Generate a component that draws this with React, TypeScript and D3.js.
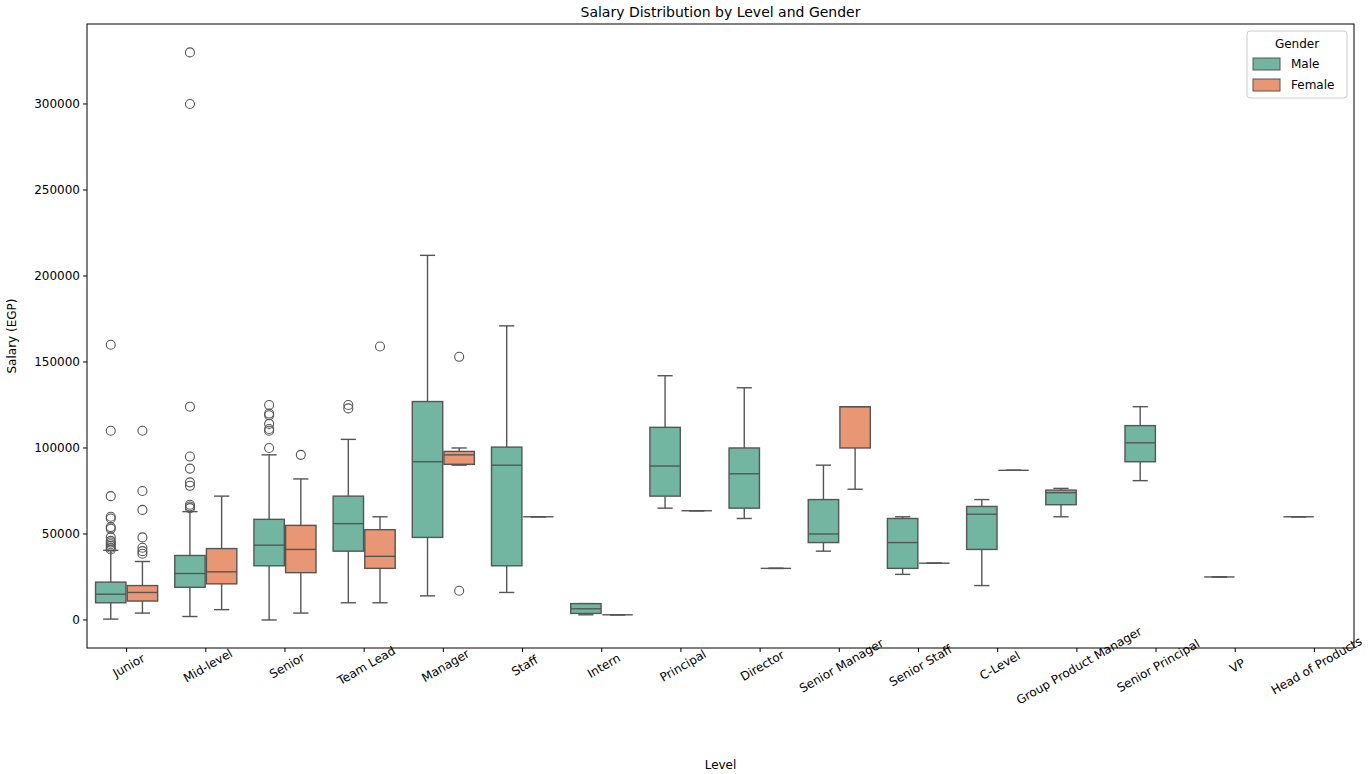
import * as d3 from 'd3';

const levels = ['Junior', 'Mid-level', 'Senior', 'Team Lead', 'Manager', 'Staff', 'Intern', 'Principal', 'Director', 'Senior Manager', 'Senior Staff', 'C-Level', 'Group Product Manager', 'Senior Principal', 'VP', 'Head of Products'];
const genders = ['Male', 'Female'];
const colors = ['#66c2a5', '#fc8d62'];
const fills = ['#72b6a1', '#e99675'];
const yTicks = [0, 50000, 100000, 150000, 200000, 250000, 300000];

// [level, gender, lowWhisker, q1, median, q3, highWhisker]
const boxes: [string, string, number, number, number, number, number][] = [
  ['Junior', 'Male', 500, 10000, 15000, 22000, 40500],
  ['Junior', 'Female', 4000, 11000, 16000, 20000, 34000],
  ['Mid-level', 'Male', 2000, 19000, 27000, 37500, 63000],
  ['Mid-level', 'Female', 6000, 21000, 28000, 41500, 72000],
  ['Senior', 'Male', 0, 31500, 43500, 58500, 96000],
  ['Senior', 'Female', 4000, 27500, 41000, 55000, 82000],
  ['Team Lead', 'Male', 10000, 40000, 56000, 72000, 105000],
  ['Team Lead', 'Female', 10000, 30000, 37000, 52500, 60000],
  ['Manager', 'Male', 14000, 48000, 92000, 127000, 212000],
  ['Manager', 'Female', 90000, 90500, 96000, 98000, 100000],
  ['Staff', 'Male', 16000, 31500, 90000, 100500, 171000],
  ['Staff', 'Female', 60000, 60000, 60000, 60000, 60000],
  ['Intern', 'Male', 3000, 3800, 6500, 9500, 9500],
  ['Intern', 'Female', 3000, 3000, 3000, 3000, 3000],
  ['Principal', 'Male', 65000, 72000, 89500, 112000, 142000],
  ['Principal', 'Female', 63500, 63500, 63500, 63500, 63500],
  ['Director', 'Male', 59000, 65000, 85000, 100000, 135000],
  ['Director', 'Female', 30000, 30000, 30000, 30000, 30000],
  ['Senior Manager', 'Male', 40000, 45000, 50000, 70000, 90000],
  ['Senior Manager', 'Female', 76000, 100000, 124000, 124000, 124000],
  ['Senior Staff', 'Male', 26500, 30000, 45000, 59000, 60000],
  ['Senior Staff', 'Female', 33000, 33000, 33000, 33000, 33000],
  ['C-Level', 'Male', 20000, 41000, 61500, 66000, 70000],
  ['C-Level', 'Female', 87000, 87000, 87000, 87000, 87000],
  ['Group Product Manager', 'Male', 60000, 67000, 74000, 75500, 76500],
  ['Senior Principal', 'Male', 81000, 92000, 103000, 113000, 124000],
  ['VP', 'Male', 25000, 25000, 25000, 25000, 25000],
  ['Head of Products', 'Male', 60000, 60000, 60000, 60000, 60000],
];

// [level, gender, value]
const outliers: [string, string, number][] = [
  ...[160000, 110000, 72000, 60000, 59000, 54000, 53000, 48000, 46000, 45000, 44000, 43000, 42000, 41000].map((v) => ['Junior', 'Male', v] as [string, string, number]),
  ...[110000, 75000, 64000, 48000, 42000, 40000, 38500].map((v) => ['Junior', 'Female', v] as [string, string, number]),
  ...[330000, 300000, 124000, 95000, 88000, 80000, 78000, 67000, 66000, 65000].map((v) => ['Mid-level', 'Male', v] as [string, string, number]),
  ...[125000, 120000, 119000, 114000, 111000, 110000, 100000].map((v) => ['Senior', 'Male', v] as [string, string, number]),
  ['Senior', 'Female', 96000],
  ['Team Lead', 'Male', 125000],
  ['Team Lead', 'Male', 123000],
  ['Team Lead', 'Female', 159000],
  ['Manager', 'Female', 153000],
  ['Manager', 'Female', 17000],
];

export default function App() {
  const W = 1372, H = 774;
  const m = { left: 87, right: 1354, top: 24, bottom: 648 };
  const x = d3.scaleBand<string>().domain(levels).range([m.left, m.right]);
  const y = d3.scaleLinear().domain([-16300, 346500]).range([m.bottom, m.top]);
  const bw = x.bandwidth() * 0.8;
  const sub = d3.scaleBand<string>().domain(genders).range([0, bw]);
  const hw = sub.bandwidth();
  const bx = (l: string, g: string) => x(l)! + x.bandwidth() * 0.1 + sub(g)!;
  const stroke = '#555555';
  const font = 'DejaVu Sans, sans-serif';

  return (
    <svg width={W} height={H} style={{ position: 'absolute', left: 0, top: 0 }} fontFamily={font}>
      <rect width={W} height={H} fill="#fff" />
      {boxes.map(([l, g, lo, q1, md, q3, hi], i) => {
        const x0 = bx(l, g) + hw * 0.02;
        const w = hw * 0.96;
        const cx = x0 + w / 2;
        const cap = w / 4;
        const fill = fills[genders.indexOf(g)];
        return (
          <g key={i} stroke={stroke} strokeWidth={1.4} fill="none">
            <line x1={cx} x2={cx} y1={y(hi)} y2={y(q3)} />
            <line x1={cx} x2={cx} y1={y(lo)} y2={y(q1)} />
            <line x1={cx - cap} x2={cx + cap} y1={y(hi)} y2={y(hi)} />
            <line x1={cx - cap} x2={cx + cap} y1={y(lo)} y2={y(lo)} />
            <rect x={x0} y={y(q3)} width={w} height={Math.max(0, y(q1) - y(q3))} fill={fill} />
            <line x1={x0} x2={x0 + w} y1={y(md)} y2={y(md)} />
          </g>
        );
      })}
      {outliers.map(([l, g, v], i) => (
        <circle key={i} cx={bx(l, g) + hw / 2} cy={y(v)} r={4.5} fill="none" stroke={stroke} strokeWidth={1.1} />
      ))}
      <rect x={m.left} y={m.top} width={m.right - m.left} height={m.bottom - m.top} fill="none" stroke="#000" strokeWidth={1} />
      {yTicks.map((t) => (
        <g key={t}>
          <line x1={m.left - 4} x2={m.left} y1={y(t)} y2={y(t)} stroke="#000" />
          <text x={m.left - 7} y={y(t)} dy="0.35em" textAnchor="end" fontSize={12}>{t}</text>
        </g>
      ))}
      {levels.map((l) => {
        const cx = x(l)! + x.bandwidth() / 2;
        return (
          <g key={l}>
            <line x1={cx} x2={cx} y1={m.bottom} y2={m.bottom + 4} stroke="#000" />
            <text transform={`translate(${cx},${m.bottom + 14}) rotate(-30)`} textAnchor="middle" dy="0.7em" fontSize={12}>{l}</text>
          </g>
        );
      })}
      <text x={(m.left + m.right) / 2} y={769} textAnchor="middle" fontSize={12}>Level</text>
      <text transform={`translate(16,${(m.top + m.bottom) / 2}) rotate(-90)`} textAnchor="middle" fontSize={12}>Salary (EGP)</text>
      <text x={(m.left + m.right) / 2} y={17} textAnchor="middle" fontSize={14}>Salary Distribution by Level and Gender</text>
      <g transform="translate(1247,31)">
        <rect width={100} height={67} rx={3} fill="#fff" stroke="#ccc" />
        <text x={50} y={17} textAnchor="middle" fontSize={12}>Gender</text>
        {genders.map((g, i) => (
          <g key={g} transform={`translate(6,${27 + i * 21})`}>
            <rect width={27} height={12} fill={fills[i]} stroke={stroke} strokeWidth={1} />
            <text x={38} y={10} fontSize={12}>{g}</text>
          </g>
        ))}
      </g>
    </svg>
  );
}
